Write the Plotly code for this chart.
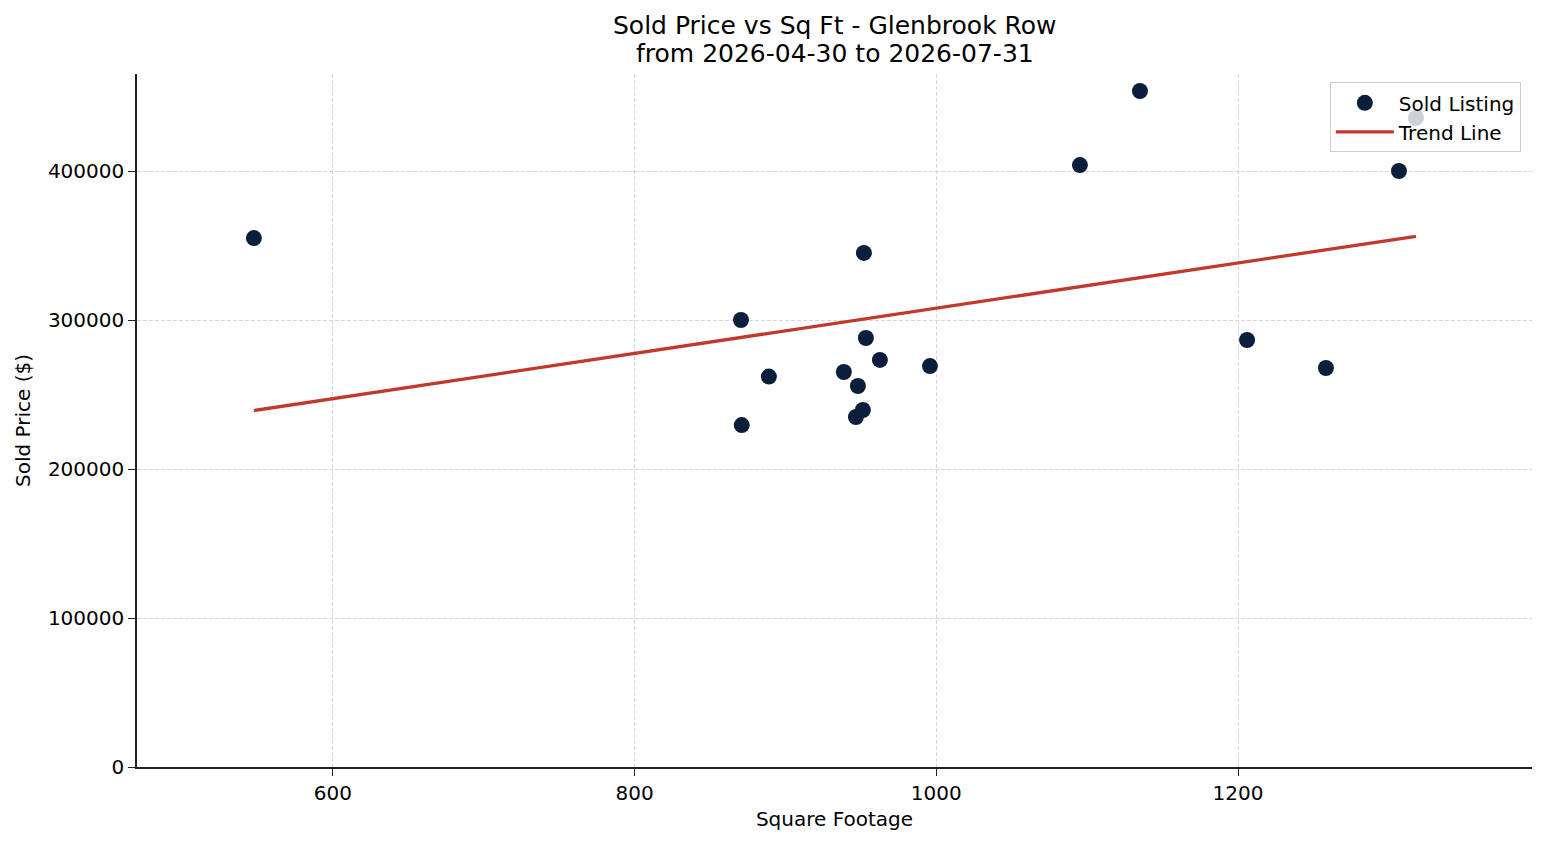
import numpy as np
import plotly.graph_objects as go

# sold listings
sqft = [547.6, 870.5, 871, 889, 938.7, 946.7, 948, 951.3, 952, 953.3,
        962.6, 995.8, 1095.2, 1135, 1206, 1258.3, 1306.7, 1318]
price = [355000, 300000, 229500, 262000, 265100, 234900, 255700, 239600, 345000, 287900,
         273200, 269100, 404000, 453700, 286600, 267800, 400000, 435600]

title_lines = ["Sold Price vs Sq Ft - Glenbrook Row", "from 2026-04-30 to 2026-07-31"]
x_ticks = [600, 800, 1000, 1200]
y_ticks = [0, 100000, 200000, 300000, 400000]

# linear fit for the trend line
slope, intercept = np.polyfit(sqft, price, 1)
trend_x = [min(sqft), max(sqft)]
trend_y = [slope * v + intercept for v in trend_x]

font = "DejaVu Sans, Verdana, sans-serif"

fig = go.Figure()
fig.add_trace(go.Scatter(
    x=sqft, y=price, mode="markers", name="Sold Listing",
    marker=dict(color="#0b1f3d", size=16, line=dict(width=0)),
))
fig.add_trace(go.Scatter(
    x=trend_x, y=trend_y, mode="lines", name="Trend Line",
    line=dict(color="#c0392b", width=3.3),
))

# two-line title, drawn as annotations so the line spacing matches
for txt, ypos in zip(title_lines, [1.0693, 1.0289]):
    fig.add_annotation(text=txt, xref="paper", yref="paper", x=0.5, y=ypos,
                       xanchor="center", yanchor="middle", showarrow=False,
                       font=dict(size=25, color="#000"))

axis_common = dict(
    showline=True, linecolor="#222", linewidth=1.5,
    ticks="outside", ticklen=7, tickwidth=1.4, tickcolor="#222",
    showgrid=True, gridcolor="#d6d6d6", griddash="4px,2px", gridwidth=0.8,
    zeroline=False, tickfont=dict(size=20, color="#000"),
    title_font=dict(size=20, color="#000"),
)

fig.update_layout(
    width=1547, height=845,
    paper_bgcolor="white", plot_bgcolor="white",
    font=dict(family=font, color="#000"),
    margin=dict(l=129, r=23, t=66, b=86),
    xaxis=dict(title=dict(text="Square Footage", standoff=8), range=[470.1, 1394.9],
               tickvals=x_ticks, **axis_common),
    yaxis=dict(title=dict(text="Sold Price ($)", standoff=12), range=[0, 465100],
               tickvals=y_ticks, ticktext=[str(v) for v in y_ticks], **axis_common),
    legend=dict(x=0.992, xanchor="right", y=0.988, yanchor="top",
                bgcolor="rgba(255,255,255,0.8)", bordercolor="#cccccc", borderwidth=1,
                itemwidth=58, font=dict(size=20, color="#000")),
    showlegend=True,
)

fig.write_html("out.html")
